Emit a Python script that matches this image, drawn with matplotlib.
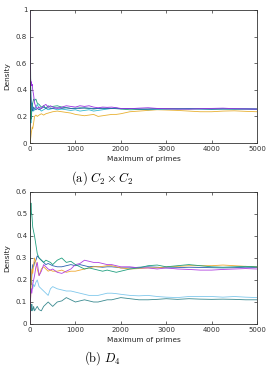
import matplotlib
matplotlib.use("Agg")
import matplotlib.pyplot as plt

plt.rcParams["mathtext.fontset"] = "cm"

# sample points (maximum of primes)
x = [2, 10, 20, 30, 40, 50, 60, 80, 100,
     130, 160, 200, 250, 300, 350, 400, 450, 500,
     600, 700, 800, 900, 1000,
     1100, 1200, 1300, 1400, 1500,
     1600, 1700, 1800, 1900, 2000,
     2200, 2400, 2600, 2800, 3000,
     3250, 3500, 3750, 4000,
     4250, 4500, 4750, 5000]

# (a) C2 x C2
a_purple = [1.0, 0.50, 0.45, 0.46, 0.43, 0.44, 0.40, 0.36, 0.30,
            0.27, 0.26, 0.27, 0.26, 0.28, 0.29, 0.27, 0.28, 0.27,
            0.26, 0.27, 0.28, 0.275, 0.27,
            0.28, 0.275, 0.28, 0.27, 0.265,
            0.27, 0.268, 0.27, 0.265, 0.26,
            0.258, 0.262, 0.265, 0.26, 0.258,
            0.256, 0.255, 0.258, 0.26,
            0.262, 0.258, 0.256, 0.255]
a_green = [0.5, 0.67, 0.30, 0.18, 0.25, 0.28, 0.30, 0.33, 0.32,
           0.33, 0.30, 0.29, 0.27, 0.28, 0.26, 0.28, 0.27, 0.275,
           0.28, 0.27, 0.265, 0.26, 0.26,
           0.265, 0.262, 0.26, 0.255, 0.26,
           0.258, 0.262, 0.26, 0.258, 0.255,
           0.25, 0.252, 0.255, 0.258, 0.26,
           0.258, 0.256, 0.258, 0.255,
           0.256, 0.255, 0.256, 0.255]
a_cyan = [0.5, 0.3, 0.15, 0.22, 0.28, 0.30, 0.27, 0.24, 0.25,
          0.27, 0.29, 0.26, 0.24, 0.25, 0.26, 0.25, 0.255, 0.26,
          0.25, 0.255, 0.25, 0.245, 0.25,
          0.24, 0.245, 0.25, 0.24, 0.245,
          0.25, 0.255, 0.26, 0.262, 0.258,
          0.26, 0.255, 0.25, 0.252, 0.255,
          0.258, 0.26, 0.256, 0.255,
          0.257, 0.255, 0.256, 0.255]
a_blue = [0.5, 0.45, 0.35, 0.30, 0.28, 0.25, 0.24, 0.27, 0.26,
          0.25, 0.26, 0.25, 0.26, 0.27, 0.26, 0.265, 0.26, 0.26,
          0.265, 0.26, 0.265, 0.26, 0.262,
          0.26, 0.265, 0.262, 0.26, 0.26,
          0.262, 0.26, 0.26, 0.262, 0.258,
          0.26, 0.256, 0.255, 0.258, 0.256,
          0.255, 0.257, 0.256, 0.255,
          0.256, 0.257, 0.256, 0.255]
a_orange = [0.0, 0.02, 0.05, 0.08, 0.10, 0.12, 0.11, 0.15, 0.20,
            0.21, 0.20, 0.21, 0.22, 0.21, 0.22, 0.225, 0.23, 0.235,
            0.24, 0.235, 0.23, 0.225, 0.215,
            0.21, 0.205, 0.21, 0.215, 0.20,
            0.205, 0.21, 0.215, 0.215, 0.22,
            0.235, 0.24, 0.245, 0.25, 0.248,
            0.245, 0.24, 0.235, 0.235,
            0.24, 0.242, 0.238, 0.235]

# (b) D4
b_green = [0.33, 0.45, 0.55, 0.50, 0.50, 0.47, 0.44, 0.42, 0.40,
           0.36, 0.32, 0.30, 0.29, 0.28, 0.29, 0.285, 0.28, 0.27,
           0.29, 0.30, 0.28, 0.285, 0.27,
           0.26, 0.25, 0.255, 0.25, 0.245,
           0.24, 0.245, 0.24, 0.235, 0.24,
           0.25, 0.255, 0.265, 0.268, 0.26,
           0.265, 0.27, 0.265, 0.26,
           0.258, 0.26, 0.262, 0.26]
b_purple = [0.0, 0.10, 0.15, 0.16, 0.14, 0.16, 0.18, 0.20, 0.22,
            0.26, 0.28, 0.22, 0.24, 0.27, 0.26, 0.25, 0.245, 0.25,
            0.235, 0.23, 0.24, 0.25, 0.27,
            0.275, 0.29, 0.285, 0.28, 0.28,
            0.275, 0.27, 0.27, 0.265, 0.26,
            0.26, 0.255, 0.255, 0.25, 0.255,
            0.25, 0.248, 0.245, 0.245,
            0.248, 0.25, 0.252, 0.25]
b_orange = [0.0, 0.10, 0.15, 0.20, 0.24, 0.25, 0.23, 0.27, 0.30,
            0.28, 0.25, 0.22, 0.25, 0.26, 0.25, 0.24, 0.245, 0.24,
            0.24, 0.245, 0.235, 0.24, 0.24,
            0.245, 0.25, 0.255, 0.26, 0.26,
            0.262, 0.265, 0.265, 0.26, 0.255,
            0.25, 0.252, 0.255, 0.255, 0.26,
            0.262, 0.265, 0.265, 0.265,
            0.268, 0.265, 0.262, 0.26]
b_blue = [0.25, 0.30, 0.20, 0.18, 0.22, 0.25, 0.27, 0.26, 0.28,
          0.29, 0.31, 0.30, 0.29, 0.28, 0.27, 0.275, 0.27, 0.265,
          0.26, 0.26, 0.265, 0.27, 0.265,
          0.27, 0.265, 0.26, 0.262, 0.26,
          0.258, 0.26, 0.26, 0.258, 0.255,
          0.255, 0.258, 0.26, 0.258, 0.255,
          0.256, 0.258, 0.257, 0.256,
          0.255, 0.256, 0.258, 0.257]
b_lightblue = [0.5, 0.30, 0.20, 0.18, 0.20, 0.17, 0.16, 0.18, 0.17,
               0.19, 0.20, 0.17, 0.16, 0.15, 0.14, 0.13, 0.16, 0.17,
               0.16, 0.155, 0.15, 0.15, 0.145,
               0.14, 0.135, 0.13, 0.13, 0.13,
               0.135, 0.14, 0.14, 0.138, 0.135,
               0.13, 0.128, 0.13, 0.125, 0.122,
               0.12, 0.125, 0.125, 0.125,
               0.122, 0.125, 0.122, 0.12]
b_teal = [0.0, 0.05, 0.08, 0.06, 0.09, 0.07, 0.06, 0.08, 0.06,
          0.07, 0.08, 0.065, 0.06, 0.08, 0.09, 0.10, 0.09, 0.08,
          0.10, 0.105, 0.12, 0.11, 0.10,
          0.105, 0.11, 0.105, 0.10, 0.10,
          0.105, 0.11, 0.11, 0.115, 0.12,
          0.115, 0.11, 0.11, 0.112, 0.115,
          0.112, 0.115, 0.113, 0.112,
          0.113, 0.112, 0.11, 0.11]

xticks = [0, 1000, 2000, 3000, 4000, 5000]
a_yticks = [0, 0.2, 0.4, 0.6, 0.8, 1]
a_ylabels = ["0", "0.2", "0.4", "0.6", "0.8", "1"]
b_yticks = [0, 0.1, 0.2, 0.3, 0.4, 0.5, 0.6]
b_ylabels = ["0", "0.1", "0.2", "0.3", "0.4", "0.5", "0.6"]

W, H = 268, 366
fig = plt.figure(figsize=(W / 100, H / 100), dpi=100)


def style(ax, yticks, ylabels, ymax):
    ax.set_xlim(0, 5000)
    ax.set_ylim(0, ymax)
    ax.set_xticks(xticks)
    ax.set_xticklabels([str(t) for t in xticks])
    ax.set_yticks(yticks)
    ax.set_yticklabels(ylabels)
    ax.tick_params(direction="in", length=2.5, width=0.5, labelsize=5,
                   top=True, right=True, pad=2, colors="#333333")
    for s in ax.spines.values():
        s.set_linewidth(0.6)
        s.set_color("#333333")
    ax.set_xlabel("Maximum of primes", fontsize=5.3, labelpad=3, color="#222222")
    ax.set_ylabel("Density", fontsize=5.3, labelpad=4, color="#222222")


lw = 0.6
ax1 = fig.add_axes([30 / W, 1 - 143 / H, 227 / W, 133 / H])
ax1.plot(x, a_orange, color="#e8b030", lw=lw)
ax1.plot(x, a_cyan, color="#30b8d0", lw=lw)
ax1.plot(x, a_green, color="#20a080", lw=lw)
ax1.plot(x, a_blue, color="#2a60b0", lw=lw)
ax1.plot(x, a_purple, color="#9a30e0", lw=lw)
style(ax1, a_yticks, a_ylabels, 1)

ax2 = fig.add_axes([30 / W, 1 - 324 / H, 227 / W, 132 / H])
ax2.plot(x, b_teal, color="#3a8a90", lw=lw)
ax2.plot(x, b_lightblue, color="#80c8ec", lw=lw)
ax2.plot(x, b_blue, color="#2a60b0", lw=lw)
ax2.plot(x, b_orange, color="#f0a830", lw=lw)
ax2.plot(x, b_purple, color="#b040e0", lw=lw)
ax2.plot(x, b_green, color="#20a080", lw=lw)
style(ax2, b_yticks, b_ylabels, 0.6)

fig.text(102 / W, 1 - 178 / H, r"$\mathrm{(a)}\ C_2 \times C_2$", fontsize=9,
         ha="center", va="center")
fig.text(102 / W, 1 - 358 / H, r"$\mathrm{(b)}\ D_4$", fontsize=9,
         ha="center", va="center")

fig.savefig("out.png", dpi=100)
